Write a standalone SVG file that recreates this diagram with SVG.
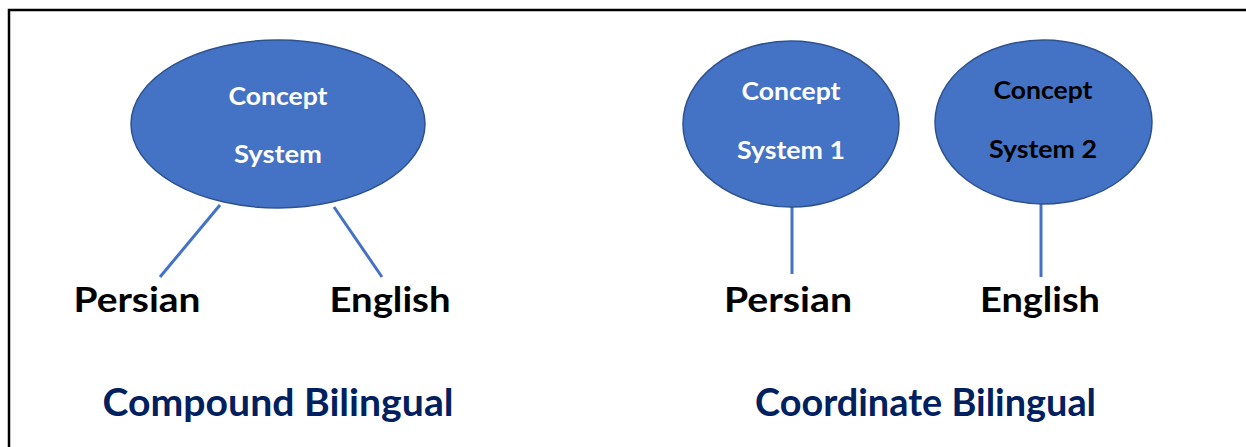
<svg xmlns="http://www.w3.org/2000/svg" width="1246" height="447" viewBox="0 0 1246 447">
  <style>
    .frame { fill: none; stroke: #000000; stroke-width: 2.5; }
    .bubble { fill: #4472C4; stroke: #2F528F; stroke-width: 1.5; }
    .link { stroke: #4472C4; stroke-width: 3; fill: none; }
    text { font-family: "Lato", "Open Sans", sans-serif; font-weight: bold; text-anchor: middle; }
    .inner { font-size: 25px; fill: #FFFFFF; }
    .inner.dark { fill: #000000; }
    .lang { font-size: 35px; fill: #000000; }
    .title { font-size: 38px; fill: #002060; }
  </style>

  <!-- page frame: top and left edges -->
  <path class="frame" d="M1246,10 H9 V447"/>

  <!-- connectors -->
  <g id="connectors">
    <line class="link" x1="220" y1="205" x2="160" y2="277"/>
    <line class="link" x1="334" y1="207" x2="382" y2="277"/>
    <line class="link" x1="792" y1="207" x2="792" y2="274"/>
    <line class="link" x1="1041" y1="204" x2="1041" y2="277"/>
  </g>

  <!-- compound bilingual: one shared concept system -->
  <g id="concept-system">
    <ellipse class="bubble" cx="278" cy="124" rx="147" ry="84"/>
    <text class="inner" x="278" y="105" textLength="99" lengthAdjust="spacingAndGlyphs">Concept</text>
    <text class="inner" x="278" y="163" textLength="88" lengthAdjust="spacingAndGlyphs">System</text>
  </g>
  <g id="persian-left">
    <text class="lang" x="137" y="312" textLength="127" lengthAdjust="spacingAndGlyphs">Persian</text>
  </g>
  <g id="english-left">
    <text class="lang" x="390" y="312" textLength="121" lengthAdjust="spacingAndGlyphs">English</text>
  </g>
  <g id="title-compound">
    <text class="title" x="278" y="416" textLength="351" lengthAdjust="spacingAndGlyphs">Compound Bilingual</text>
  </g>

  <!-- coordinate bilingual: two separate concept systems -->
  <g id="concept-system-1">
    <ellipse class="bubble" cx="791" cy="124" rx="108" ry="83"/>
    <text class="inner" x="791" y="100" textLength="99" lengthAdjust="spacingAndGlyphs">Concept</text>
    <text class="inner" x="791" y="159" textLength="108" lengthAdjust="spacingAndGlyphs">System 1</text>
  </g>
  <g id="concept-system-2">
    <ellipse class="bubble" cx="1043.5" cy="122" rx="108.5" ry="82"/>
    <text class="inner dark" x="1043" y="99" textLength="99" lengthAdjust="spacingAndGlyphs">Concept</text>
    <text class="inner dark" x="1043" y="158" textLength="108" lengthAdjust="spacingAndGlyphs">System 2</text>
  </g>
  <g id="persian-right">
    <text class="lang" x="788" y="312" textLength="128" lengthAdjust="spacingAndGlyphs">Persian</text>
  </g>
  <g id="english-right">
    <text class="lang" x="1040" y="312" textLength="120" lengthAdjust="spacingAndGlyphs">English</text>
  </g>
  <g id="title-coordinate">
    <text class="title" x="925.5" y="416" textLength="341" lengthAdjust="spacingAndGlyphs">Coordinate Bilingual</text>
  </g>
</svg>
